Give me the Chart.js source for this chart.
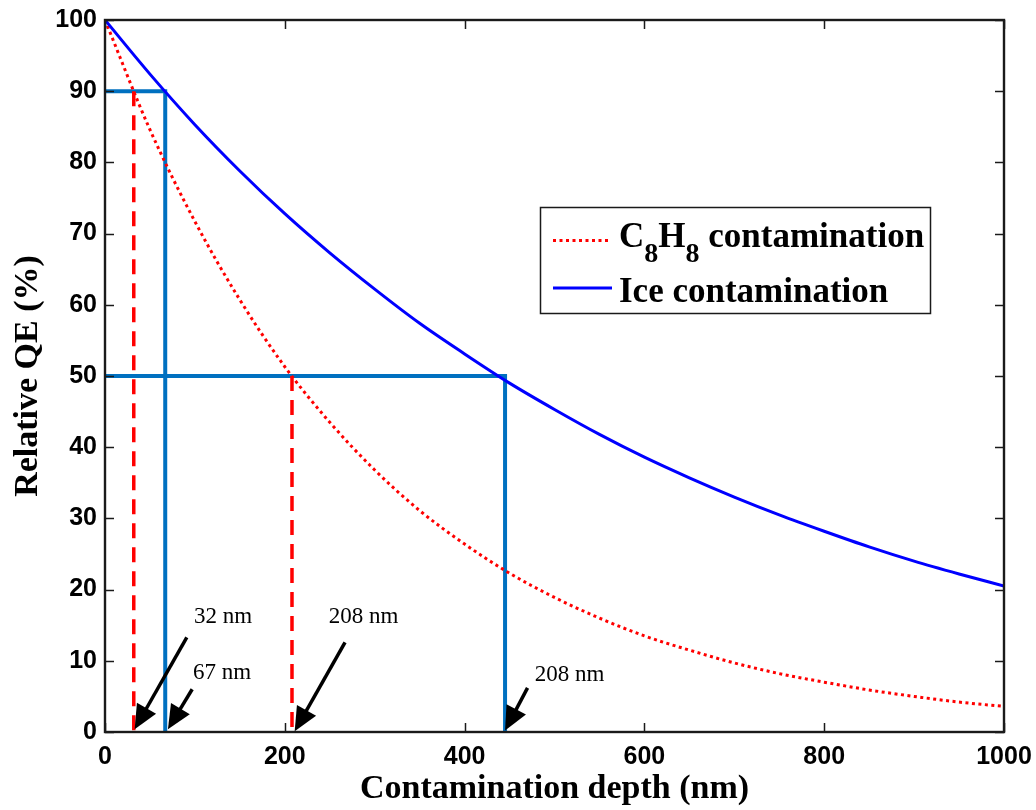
<!DOCTYPE html>
<html>
<head>
<meta charset="utf-8">
<script src="https://cdn.jsdelivr.net/npm/chart.js@4"></script>
<style>
html,body{margin:0;padding:0;background:#fff;}
#wrap{width:1036px;height:810px;}
</style>
</head>
<body>
<div id="wrap"><canvas id="c" width="1036" height="810"></canvas></div>
<script>
// ---- data ----
const depth = [0,50,100,150,200,250,300,350,400,450,500,550,600,650,700,750,800,850,900,950,1000];
const c8h8QE = [100,84.6,71.7,60.7,51.3,43.5,36.8,31.1,26.4,22.3,18.9,16.0,13.5,11.5,9.7,8.2,7.0,5.9,5.0,4.2,3.6];
const iceQE  = [100,92.4,85.3,78.8,72.8,67.3,62.2,57.4,53.1,49.0,45.3,41.8,38.6,35.7,33.0,30.5,28.2,26.0,24.0,22.2,20.5];
const xTicks = [0,200,400,600,800,1000];
const yTicks = [0,10,20,30,40,50,60,70,80,90,100];
// reference (threshold) lines: level in %, depth in nm
const refLevels = [90, 50];
const refC8H8Depth = [32, 208];
const refIceDepth = [67, 445];
// annotations (data units)
const noteTexts = ['32 nm','67 nm','208 nm','208 nm'];
const noteAt = [[99,16.2],[98,8.3],[249,16.2],[478,8.0]];
const arrowFrom = [[91,13.3],[97,6.0],[267,12.6],[470,6.2]];
const arrowTo = [[33,0.4],[70,0.4],[211,0.1],[445,0.2]];

const pts = (xs, ys) => xs.map((x,i)=>({x:x,y:ys[i]}));

const datasets = [];
refLevels.forEach((lv,i)=>{
  datasets.push({label:'ref-ice-'+i, data:[{x:0,y:lv},{x:refIceDepth[i],y:lv},{x:refIceDepth[i],y:0}],
    borderColor:'#0070C0', borderWidth:4, pointRadius:0, tension:0, fill:false, order:5});
  datasets.push({label:'ref-c8h8-'+i, data:[{x:refC8H8Depth[i],y:lv},{x:refC8H8Depth[i],y:0}],
    borderColor:'#FF0000', borderWidth:3.5, borderDash:[15,9], pointRadius:0, tension:0, fill:false, order:4});
});
datasets.push({label:'C8H8 contamination', data:pts(depth,c8h8QE), borderColor:'#FF0000', borderWidth:3,
  borderDash:[3,3.5], pointRadius:0, cubicInterpolationMode:'monotone', fill:false, order:2});
datasets.push({label:'Ice contamination', data:pts(depth,iceQE), borderColor:'#0000FF', borderWidth:3,
  pointRadius:0, cubicInterpolationMode:'monotone', fill:false, order:1});

const framePlugin = {
  id:'frame',
  afterDatasetsDraw(chart){
    const {ctx, chartArea:a, scales:{x,y}} = chart;
    ctx.save();
    ctx.strokeStyle = '#1a1a1a';
    ctx.lineWidth = 1.5;
    xTicks.forEach(v=>{
      const px = Math.round(x.getPixelForValue(v))+0.5;
      ctx.beginPath(); ctx.moveTo(px,a.bottom); ctx.lineTo(px,a.bottom-9); ctx.stroke();
      ctx.beginPath(); ctx.moveTo(px,a.top); ctx.lineTo(px,a.top+9); ctx.stroke();
    });
    yTicks.forEach(v=>{
      const py = Math.round(y.getPixelForValue(v))+0.5;
      ctx.beginPath(); ctx.moveTo(a.left,py); ctx.lineTo(a.left+9,py); ctx.stroke();
      ctx.beginPath(); ctx.moveTo(a.right,py); ctx.lineTo(a.right-9,py); ctx.stroke();
    });
    ctx.lineWidth = 2.4;
    ctx.strokeRect(a.left, a.top, a.right-a.left, a.bottom-a.top);

    // annotation arrows
    ctx.strokeStyle = '#000'; ctx.fillStyle = '#000'; ctx.lineWidth = 3.5;
    arrowFrom.forEach((f,i)=>{
      const x0 = x.getPixelForValue(f[0]), y0 = y.getPixelForValue(f[1]);
      const x1 = x.getPixelForValue(arrowTo[i][0]), y1 = y.getPixelForValue(arrowTo[i][1]);
      const ang = Math.atan2(y1-y0, x1-x0);
      const hl = 24, hw = 11;
      const bx = x1 - hl*Math.cos(ang), by = y1 - hl*Math.sin(ang);
      ctx.beginPath(); ctx.moveTo(x0,y0); ctx.lineTo(bx + 4*Math.cos(ang), by + 4*Math.sin(ang)); ctx.stroke();
      ctx.beginPath();
      ctx.moveTo(x1,y1);
      ctx.lineTo(bx + hw*Math.sin(ang), by - hw*Math.cos(ang));
      ctx.lineTo(bx - hw*Math.sin(ang), by + hw*Math.cos(ang));
      ctx.closePath(); ctx.fill();
    });
    ctx.font = '23px "Liberation Serif", "Times New Roman", serif';
    ctx.textBaseline = 'middle'; ctx.textAlign = 'left';
    noteTexts.forEach((t,i)=>{
      ctx.fillText(t, x.getPixelForValue(noteAt[i][0]), y.getPixelForValue(noteAt[i][1]));
    });
    ctx.restore();
  },
  afterDraw(chart){
    // legend box
    const {ctx} = chart;
    const L = 540, T = 207, W = 390, H = 106;
    ctx.save();
    ctx.fillStyle = '#fff';
    ctx.fillRect(L,T,W,H);
    ctx.strokeStyle = '#1a1a1a'; ctx.lineWidth = 1.5;
    ctx.strokeRect(L+0.5,T+0.5,W,H);
    ctx.lineWidth = 3;
    ctx.strokeStyle = '#FF0000'; ctx.setLineDash([3,3.5]);
    ctx.beginPath(); ctx.moveTo(553,240.5); ctx.lineTo(611,240.5); ctx.stroke();
    ctx.setLineDash([]);
    ctx.strokeStyle = '#0000FF';
    ctx.beginPath(); ctx.moveTo(553,288); ctx.lineTo(612,288); ctx.stroke();
    ctx.fillStyle = '#000'; ctx.textBaseline = 'alphabetic'; ctx.textAlign = 'left';
    const big = 'bold 35px "Liberation Serif", "Times New Roman", serif';
    const sub = 'bold 28px "Liberation Serif", "Times New Roman", serif';
    let cx = 619; const base = 247;
    const parts = [['C',big,0],['8',sub,15],['H',big,0],['8',sub,15],[' contamination',big,0]];
    parts.forEach(p=>{ ctx.font = p[1]; ctx.fillText(p[0], cx, base+p[2]); cx += ctx.measureText(p[0]).width; });
    ctx.font = big;
    ctx.fillText('Ice contamination', 619, 302);
    ctx.restore();
  }
};

new Chart(document.getElementById('c'), {
  type:'line',
  data:{datasets},
  plugins:[framePlugin],
  options:{
    responsive:false, animation:false,
    layout:{padding:{top:20,right:32,left:0,bottom:0}},
    plugins:{legend:{display:false}, tooltip:{enabled:false}},
    scales:{
      x:{type:'linear', min:0, max:1000,
        afterBuildTicks(s){ s.ticks = xTicks.map(v=>({value:v})); },
        ticks:{font:{family:'"Liberation Sans", Arial, sans-serif', weight:'bold', size:25}, color:'#000', padding:10, maxRotation:0, autoSkip:false,
          callback:(v)=>String(v)},
        grid:{display:false, drawTicks:false}, border:{display:false},
        title:{display:true, text:'Contamination depth (nm)', color:'#000',
          font:{family:'"Liberation Serif", "Times New Roman", serif', weight:'bold', size:34}, padding:{top:0,bottom:0}},
        afterFit(s){ s.height = 78; s.paddingLeft = 0; s.paddingRight = 0; }
      },
      y:{type:'linear', min:0, max:100,
        afterBuildTicks(s){ s.ticks = yTicks.map(v=>({value:v})); },
        ticks:{font:{family:'"Liberation Sans", Arial, sans-serif', weight:'bold', size:25}, color:'#000', padding:8, autoSkip:false,
          callback:(v)=>String(v)},
        grid:{display:false, drawTicks:false}, border:{display:false},
        title:{display:true, text:'Relative QE (%)', color:'#000',
          font:{family:'"Liberation Serif", "Times New Roman", serif', weight:'bold', size:34}, padding:{top:8,bottom:0}},
        afterFit(s){ s.width = 105; s.paddingTop = 0; s.paddingBottom = 0; }
      }
    }
  }
});
</script>
</body>
</html>
